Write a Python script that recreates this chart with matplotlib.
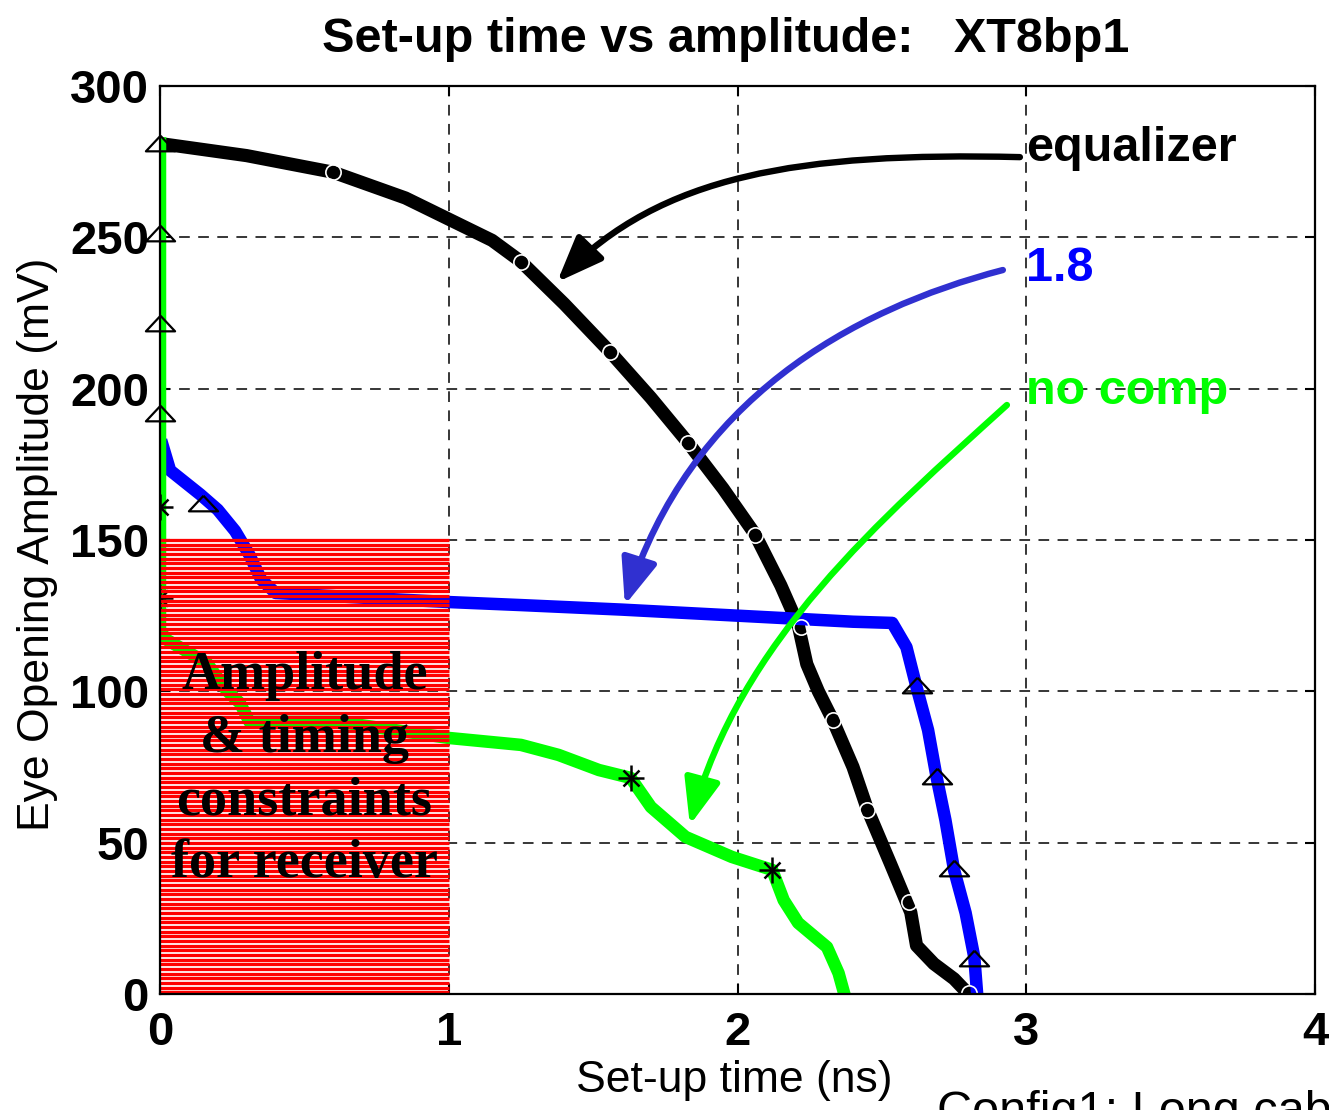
import numpy as np
import matplotlib
matplotlib.use("Agg")
from matplotlib import pyplot as plt
from matplotlib.path import Path
from matplotlib.patches import FancyArrowPatch

# eye opening vs set-up time, three receiver settings
eq_x = [0, 0.3, 0.6, 0.85, 1.0, 1.15, 1.25, 1.4, 1.56, 1.7, 1.83, 1.95, 2.06, 2.15,
        2.21, 2.24, 2.28, 2.33, 2.4, 2.45, 2.53, 2.6, 2.62, 2.68, 2.75, 2.80]
eq_y = [281, 277, 271.5, 263, 256, 249, 242, 228, 212, 197, 182, 167, 152, 135,
        122, 109, 100, 90.5, 75, 61, 43, 27, 16, 10, 5, 0]
eq_mark_x = [0.60, 1.25, 1.56, 1.83, 2.06, 2.22, 2.33, 2.45, 2.595, 2.80]
eq_mark_y = [271.5, 241.8, 212, 182, 151.6, 121.2, 90.5, 60.8, 30.4, 0.3]

c18_x = [0.01, 0.035, 0.14, 0.2, 0.26, 0.31, 0.35, 0.4, 0.69, 1.0, 1.25, 1.6, 2.0,
         2.4, 2.536, 2.585, 2.62, 2.66, 2.69, 2.72, 2.75, 2.79, 2.82, 2.83]
c18_y = [181, 173, 165, 160, 153, 145, 137, 132.5, 131, 129.5, 128.5, 127, 125,
         123, 122.6, 114.6, 101.4, 87.2, 71.4, 57.5, 41, 26.8, 12.2, 0]
c18_mark_x = [0, 0, 0, 0, 0.15, 2.62, 2.69, 2.75, 2.82]
c18_mark_y = [280.5, 250.7, 221, 191.3, 161.5, 101.4, 71.4, 41, 11.2]

nc_x = [0, 0, 0, 0.024, 0.163, 0.23, 0.277, 0.31, 0.62, 1.0, 1.25, 1.38, 1.52, 1.63,
        1.70, 1.82, 1.98, 2.12, 2.16, 2.21, 2.31, 2.35, 2.37]
nc_y = [281, 200, 120, 117, 109.3, 100.4, 96.1, 89.9, 89.9, 84.6, 82.3, 79, 74, 71.4,
        61.8, 51.9, 45.3, 41, 31, 23.5, 15.5, 6.9, 0]
nc_mark_x = [0, 0, 1.63, 2.12]
nc_mark_y = [160.9, 130.8, 71.4, 41]

# receiver constraint box: 0..1 ns, 0..151 mV
box_t = 1.0
box_amp = 151

sans = 'Liberation Sans'
serif = 'Liberation Serif'

fig = plt.figure(figsize=(13.29, 11.10), dpi=100)
ax = fig.add_axes([160 / 1329, 1 - 994 / 1110, 1155 / 1329, 908 / 1110])

ax.grid(True, color='black', linestyle=(0, (7, 5.5)), linewidth=1.1)
ax.set_axisbelow(True)

lw = 9.5
ax.plot(eq_x, eq_y, color='black', lw=lw, solid_joinstyle='round', zorder=2)
ax.plot(c18_x, c18_y, color='#0000ff', lw=lw - 0.5, solid_joinstyle='round', zorder=2)
ax.plot(nc_x, nc_y, color='#00ff00', lw=lw - 0.5, solid_joinstyle='round', zorder=2)

tri = [(0, 1), (-1.5, -0.6), (1.5, -0.6), (0, 1)]
ax.plot(eq_mark_x, eq_mark_y, 'o', ms=11, mfc='none', mec='white', mew=1.2,
        zorder=2.1, clip_on=False)
ax.plot(c18_mark_x, c18_mark_y, linestyle='none', marker=tri, ms=21, mfc='none',
        mec='black', mew=1.6, zorder=2.1, clip_on=False)
ax.plot(nc_mark_x, nc_mark_y, '+', ms=19, mec='black', mew=1.8, zorder=2.1)
ax.plot(nc_mark_x, nc_mark_y, 'x', ms=12, mec='black', mew=1.8, zorder=2.1)

# striped red fill, curves show through the gaps
stripes = np.arange(0.6, box_amp, 1.54)
ax.hlines(stripes, 0, box_t, colors='red', linewidth=2.35, zorder=2.2)
ax.text(box_t / 2, 74, 'Amplitude\n& timing\nconstraints\nfor receiver',
        ha='center', va='center', multialignment='center', family=serif,
        fontweight='bold', fontsize=39, linespacing=1.33, zorder=5)

# curved call-out arrows
arrows = [
    ([(2.978, 276.5), (2.216, 278.2), (1.732, 270.6), (1.375, 235.2)], 'black'),
    ([(2.919, 239.2), (2.39, 226.0), (1.835, 196.2), (1.610, 128.5)], '#3030d0'),
    ([(2.933, 194.6), (2.494, 156.6), (2.009, 116.9), (1.835, 55.8)], '#00ff00'),
]
for pts, col in arrows:
    p = Path(pts, [Path.MOVETO, Path.CURVE4, Path.CURVE4, Path.CURVE4])
    a = FancyArrowPatch(path=p, arrowstyle='-|>,head_length=1.4,head_width=0.55',
                        mutation_scale=20, color=col, lw=4.6, zorder=3)
    ax.add_patch(a)

ax.text(3.0, 279.5, 'equalizer', color='black', family=sans, fontweight='bold',
        fontsize=35, ha='left', va='center')
ax.text(3.0, 239.8, '1.8', color='#0000ff', family=sans, fontweight='bold',
        fontsize=35, ha='left', va='center')
ax.text(3.0, 198.9, 'no comp', color='#00ff00', family=sans, fontweight='bold',
        fontsize=35, ha='left', va='center')

ax.set_xlim(0, 4)
ax.set_ylim(0, 300)
ax.set_xticks([0, 1, 2, 3, 4])
ax.set_yticks(np.arange(0, 301, 50))
ax.tick_params(direction='in', length=7, width=1.5, top=True, right=True,
               labelsize=34)
ax.tick_params(axis='x', pad=12)
ax.tick_params(axis='y', pad=8)
for lab in ax.get_xticklabels() + ax.get_yticklabels():
    lab.set_family(sans)
    lab.set_fontweight('bold')
for s in ax.spines.values():
    s.set_linewidth(1.6)

ax.set_xlabel('Set-up time (ns)', family=sans, fontsize=32)
ax.set_ylabel('Eye Opening Amplitude (mV)', family=sans, fontsize=32)
ax.xaxis.set_label_coords(0.497, -0.073)
ax.yaxis.set_label_coords(-0.088, 0.495)

fig.text(726 / 1329, 1 - 52 / 1110, 'Set-up time vs amplitude:   XT8bp1',
         ha='center', va='baseline', family=sans, fontweight='bold', fontsize=35)
fig.text(937 / 1329, 1 - 1125 / 1110, 'Config1: Long cable', ha='left',
         va='baseline', family=sans, fontsize=35)

fig.savefig('out.png', dpi=100)
